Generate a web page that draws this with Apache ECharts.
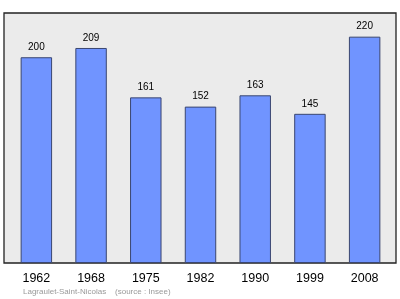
<!DOCTYPE html>
<html>
<head>
<meta charset="utf-8">
<script src="https://cdn.jsdelivr.net/npm/echarts@6/dist/echarts.min.js"></script>
<style>html,body{margin:0;padding:0;background:#fff;}#c{width:400px;height:299px;}</style>
</head>
<body>
<div id="c"></div>
<script>
const years = ['1962', '1968', '1975', '1982', '1990', '1999', '2008'];
const population = [200, 209, 161, 152, 163, 145, 220];
const footer = 'Lagraulet-Saint-Nicolas    (source : Insee)';

const chart = echarts.init(document.getElementById('c'), null, {renderer: 'canvas'});
chart.setOption({
  animation: false,
  title: {
    text: footer,
    left: 23, top: 288, padding: 0,
    textStyle: {fontSize: 8, color: '#999', fontWeight: 'normal', fontFamily: 'Liberation Sans'}
  },
  grid: [
    {left: 4, right: 4, top: 13, bottom: 36, show: true, backgroundColor: '#ebebeb', borderColor: '#222', borderWidth: 1.3},
    {left: 9, right: 8, top: 13, bottom: 36}
  ],
  xAxis: [
    {gridIndex: 0, type: 'category', data: years, show: false},
    {gridIndex: 1, type: 'category', data: years,
     axisLine: {show: false}, axisTick: {show: false},
     axisLabel: {fontSize: 12.5, color: '#000', margin: 9, fontFamily: 'Liberation Sans'}}
  ],
  yAxis: [
    {gridIndex: 0, type: 'value', show: false, min: 0, max: 243},
    {gridIndex: 1, type: 'value', show: false, min: 0, max: 243}
  ],
  series: [{
    type: 'bar',
    xAxisIndex: 1, yAxisIndex: 1,
    data: population,
    barWidth: '57.5%',
    itemStyle: {color: '#7094ff', borderColor: '#3a4670', borderWidth: 1},
    label: {show: true, position: 'top', distance: 5, fontSize: 10, color: '#000', fontFamily: 'Liberation Sans'}
  }]
});
</script>
</body>
</html>
